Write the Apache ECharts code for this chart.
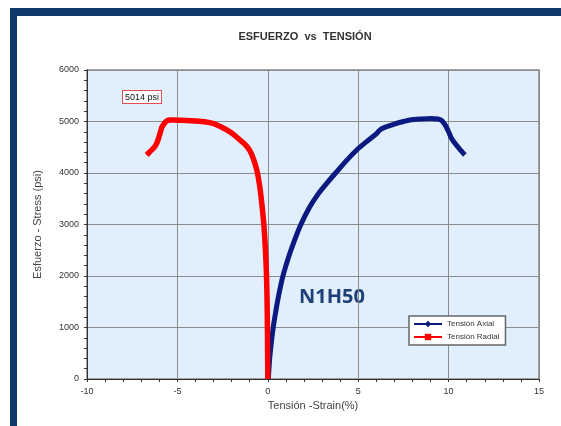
<!DOCTYPE html>
<html>
<head>
<meta charset="utf-8">
<script src="https://cdn.jsdelivr.net/npm/echarts@6/dist/echarts.min.js"></script>
<style>html,body{margin:0;padding:0;background:#fff;}#c{width:561px;height:426px;}</style>
</head>
<body>
<div id="c"></div>
<script>
var axialX = [0.03,0.1,0.2,0.3,0.45,0.6,0.8,1.0,1.3,1.78,2.3,2.8,3.26,3.8,4.4,4.92,5.5,6.0,6.2,6.5,7.0,7.5,7.86,8.5,9.0,9.4,9.6,9.8,10.0,10.15,10.35,10.6,10.9];
var axialY = [0,380,720,1000,1330,1620,1950,2200,2520,2960,3330,3600,3800,4020,4260,4447,4620,4760,4836,4890,4950,5000,5030,5050,5060,5050,5025,4940,4800,4680,4577,4470,4350];
var radialX = [0,-0.01,-0.02,-0.04,-0.07,-0.13,-0.22,-0.33,-0.45,-0.61,-0.8,-1.0,-1.3,-1.54,-1.9,-2.27,-2.6,-3.0,-3.5,-4.0,-4.5,-5.0,-5.4,-5.6,-5.75,-5.87,-6.0,-6.15,-6.3,-6.5,-6.7];
var radialY = [0,500,1000,1500,2000,2500,3000,3400,3750,4059,4280,4440,4570,4641,4750,4836,4900,4960,4995,5010,5020,5025,5030,5010,4950,4880,4720,4570,4490,4420,4350];
var seriesNames = ['Tensión Axial','Tensión Radial'];
var peakLabel = '5014 psi';
var sampleLabel = 'N1H50';

function pairs(xs, ys){ return xs.map(function(x,i){ return [x, ys[i]]; }); }

var chart = echarts.init(document.getElementById('c'));
chart.setOption({
  animation: false,
  backgroundColor: '#ffffff',
  title: {
    text: 'ESFUERZO  vs  TENSIÓN',
    left: 300, top: 26, textAlign: 'center',
    textStyle: {fontFamily: 'Liberation Sans', fontSize: 11, fontWeight: 'bold', color: '#333'}
  },
  grid: {left: 87, right: 22, top: 70, bottom: 47, show: true, backgroundColor: '#E1EFFD', borderColor: '#888', borderWidth: 1.5},
  xAxis: {
    type: 'value', min: -10, max: 15, interval: 5,
    name: 'Tensión -Strain(%)', nameLocation: 'middle', nameGap: 20,
    nameTextStyle: {fontFamily: 'Liberation Sans', fontSize: 11, color: '#444'},
    axisLine: {onZero: false, lineStyle: {color: '#333', width: 1}},
    axisTick: {show: true, length: 3, inside: false, lineStyle: {color: '#333'}},
    minorTick: {show: true, splitNumber: 5, length: 3, lineStyle: {color: '#333'}},
    axisLabel: {fontFamily: 'Liberation Sans', fontSize: 9, color: '#333', margin: 8},
    splitLine: {show: true, lineStyle: {color: '#8c8c8c', width: 1}}
  },
  yAxis: {
    type: 'value', min: 0, max: 6000, interval: 1000,
    name: 'Esfuerzo - Stress (psi)', nameLocation: 'middle', nameGap: 44, nameRotate: 90,
    nameTextStyle: {fontFamily: 'Liberation Sans', fontSize: 11, color: '#444'},
    axisLine: {show: true, onZero: false, lineStyle: {color: '#333', width: 1}},
    axisTick: {show: true, length: 3, lineStyle: {color: '#333'}},
    minorTick: {show: true, splitNumber: 5, length: 3, lineStyle: {color: '#333'}},
    axisLabel: {fontFamily: 'Liberation Sans', fontSize: 9, color: '#333', margin: 8, formatter: function(v){ return String(v); }},
    splitLine: {show: true, lineStyle: {color: '#8c8c8c', width: 1}}
  },
  legend: {
    orient: 'vertical', left: 409, top: 316,
    backgroundColor: '#fff', borderColor: '#666', borderWidth: 1.5, borderRadius: 0,
    padding: [4, 6, 4, 4], itemGap: 5, itemWidth: 28, itemHeight: 8,
    textStyle: {fontFamily: 'Liberation Sans', fontSize: 8, color: '#333'},
    data: seriesNames
  },
  series: [
    {name: seriesNames[0], type: 'line', data: pairs(axialX, axialY), smooth: 0.25,
     symbol: 'diamond', symbolSize: 7, showSymbol: false,
     lineStyle: {color: '#0A1A80', width: 5}, itemStyle: {color: '#0A1A80'}},
    {name: seriesNames[1], type: 'line', data: pairs(radialX, radialY), smooth: 0.25,
     symbol: 'rect', symbolSize: 7, showSymbol: false,
     lineStyle: {color: '#FF0000', width: 5.5}, itemStyle: {color: '#FF0000'}}
  ],
  graphic: [
    {type: 'rect', shape: {x: 10, y: 8, width: 551, height: 8}, style: {fill: '#0D3A6A'}},
    {type: 'rect', shape: {x: 10, y: 8, width: 7, height: 418}, style: {fill: '#0D3A6A'}},
    {type: 'text', left: 122, top: 90, style: {text: peakLabel, fontFamily: 'Liberation Sans', fontSize: 9, fill: '#111',
      backgroundColor: '#fff', borderColor: '#E05050', borderWidth: 1, padding: [2, 2, 1, 2]}},
    {type: 'text', left: 299, top: 287, style: {text: sampleLabel, fontFamily: 'Open Sans', fontSize: 20, fontWeight: 'bold', fill: '#1F3F78'}}
  ]
});
</script>
</body>
</html>
